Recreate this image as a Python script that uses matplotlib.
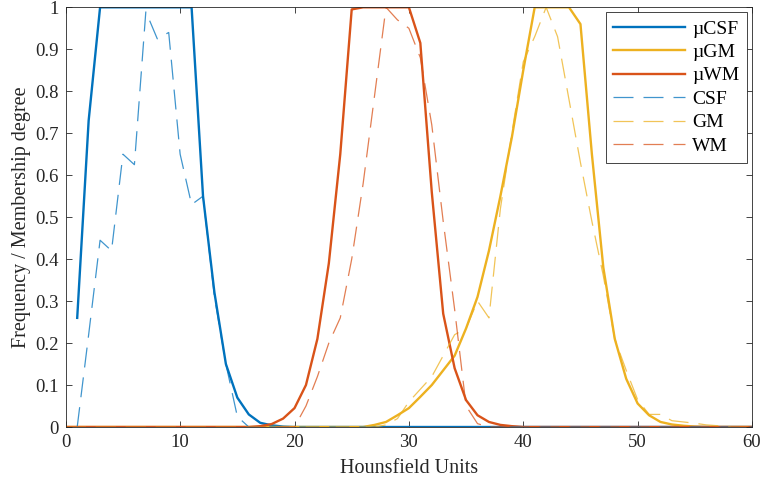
import matplotlib
matplotlib.use('Agg')
import matplotlib.pyplot as plt
import numpy as np

plt.rcParams['font.family'] = ['Liberation Serif', 'DejaVu Serif']

hu = list(range(0, 61))

# membership functions (solid)
mu_csf = [np.nan, 0.26, 0.73, 1, 1, 1, 1, 1, 1, 1, 1, 1, 0.55, 0.32, 0.15, 0.07,
          0.03, 0.01, 0.004, 0.001] + [0] * 41
mu_gm = [0] * 27 + [0.005, 0.012, 0.028, 0.045, 0.072, 0.10, 0.135, 0.17, 0.235,
                    0.31, 0.42, 0.55, 0.69, 0.85, 1, 1, 1, 1, 0.96, 0.65, 0.38,
                    0.21, 0.115, 0.056, 0.028, 0.012, 0.006, 0.003, 0.001] + [0] * 5
mu_wm = [0] * 17 + [0.002, 0.007, 0.02, 0.045, 0.10, 0.21, 0.39, 0.65, 0.995, 1,
                    1, 1, 1, 1, 0.915, 0.56, 0.27, 0.14, 0.064, 0.028, 0.012,
                    0.005, 0.002] + [0] * 21

# normalised histograms (dashed)
h_csf = [np.nan, 0, 0.22, 0.445, 0.42, 0.65, 0.625, 0.99, 0.925, 0.94, 0.65, 0.53,
         0.55, 0.31, 0.15, 0.025] + [0] * 45
h_gm = [0] * 28 + [0.005, 0.02, 0.06, 0.09, 0.12, 0.17, 0.22, 0.235, 0.30, 0.26,
                   0.52, 0.70, 0.87, 0.93, 1.0, 0.93, 0.78, 0.63, 0.49, 0.36,
                   0.21, 0.135, 0.065, 0.03, 0.03, 0.015, 0.012, 0.009, 0.005,
                   0.003] + [0] * 3
h_wm = [0] * 21 + [0.05, 0.12, 0.20, 0.26, 0.40, 0.58, 0.79, 1.0, 0.97, 0.95,
                   0.88, 0.72, 0.49, 0.28, 0.05, 0.008] + [0] * 24

blue = '#0072BD'
yellow = '#EDB120'
red = '#D95319'

fig = plt.figure(figsize=(7.63, 4.87), dpi=100)
ax = fig.add_axes([0.0862, 0.1232, 0.8994, 0.8618])

ax.plot(hu, mu_csf, color=blue, lw=1.7, label='\u00b5CSF')
ax.plot(hu, mu_gm, color=yellow, lw=1.7, label='\u00b5GM')
ax.plot(hu, mu_wm, color=red, lw=1.7, label='\u00b5WM')
ax.plot(hu, h_csf, color=blue, lw=0.9, alpha=0.75, dashes=(16, 8), label='CSF')
ax.plot(hu, h_gm, color=yellow, lw=0.9, alpha=0.75, dashes=(16, 8), label='GM')
ax.plot(hu, h_wm, color=red, lw=0.9, alpha=0.75, dashes=(16, 8), label='WM')

ax.set_xlim(0, 60)
ax.set_ylim(0, 1)
ax.set_xticks(range(0, 61, 10))
ax.set_yticks(np.arange(0, 1.01, 0.1))
ax.set_yticklabels(['0', '0.1', '0.2', '0.3', '0.4', '0.5', '0.6', '0.7', '0.8', '0.9', '1'])
ax.tick_params(direction='in', top=True, right=True, length=4, width=0.6,
               labelsize=13.5, colors='#262626', pad=5)
for s in ax.spines.values():
    s.set_color('#262626')
    s.set_linewidth(0.6)

ax.set_xlabel('Hounsfield Units', fontsize=14.5, color='#262626', labelpad=6)
ax.set_ylabel('Frequency / Membership degree', fontsize=14.5, color='#262626', labelpad=3)

leg = ax.legend(loc='upper right', fontsize=14, handlelength=3.7, labelspacing=0.3,
                borderaxespad=0.25, fancybox=False, framealpha=1, handletextpad=0.35,
                borderpad=0.4)
leg.get_frame().set_edgecolor('#262626')
leg.get_frame().set_linewidth(0.6)

plt.savefig('out.png', dpi=100)
